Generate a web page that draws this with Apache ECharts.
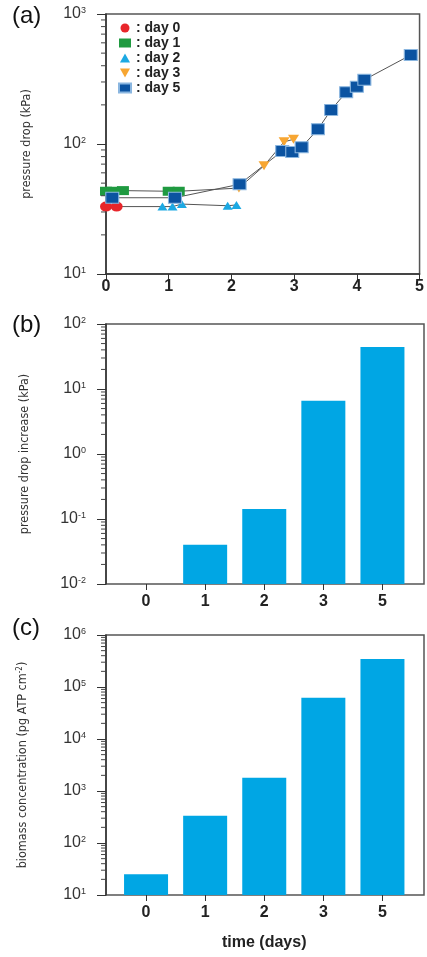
<!DOCTYPE html>
<html>
<head>
<meta charset="utf-8">
<script src="https://cdn.jsdelivr.net/npm/echarts@6/dist/echarts.min.js"></script>
<style>
  html, body { margin: 0; padding: 0; background: #fff; }
  #chart { width: 427px; height: 957px; }
</style>
</head>
<body>
<div id="chart"></div>
<script>
// (a) pressure drop over time, one point set per biofilm age
const day0X = [0, 0.17];
const day0Y = [33, 33];
const day1X = [0, 0.1, 0.27, 1.0, 1.16];
const day1Y = [43.3, 43.3, 43.8, 43.3, 43.3];
const day2X = [0.9, 1.06, 1.21, 1.94, 2.08];
const day2Y = [33, 33, 34.5, 33.5, 34];
const day3X = [2.12, 2.52, 2.84, 2.99];
const day3Y = [45.8, 68, 104, 108.6];
const day5X = [0.1, 1.1, 2.13, 2.81, 2.97, 3.12, 3.38, 3.59, 3.83, 4.0, 4.12, 4.86];
const day5Y = [38.6, 38.6, 49, 88.3, 86.7, 94.4, 130, 183, 250, 276, 312, 484];

// (b) and (c) bar panels
const dayLabels = ['0', '1', '2', '3', '5'];
const pressureIncrease = [null, 0.040, 0.143, 6.6, 44.3];
const biomass = [25, 335, 1800, 62400, 345000];

const legendNames = ['day 0', 'day 1', 'day 2', 'day 3', 'day 5'];

const FONT = "'Liberation Sans', Arial, sans-serif";
const NARROW = "'Liberation Sans Narrow', 'DejaVu Sans Condensed', 'Roboto', sans-serif";
const TRI_DOWN = 'path://M0,0 L10,0 L5,9 Z';
const TRI_UP = 'path://M5,0 L10,9 L0,9 Z';

const C_RED = '#e8262b';
const C_GREEN = '#1f9a40';
const C_CYAN = '#1ca9e3';
const C_ORANGE = '#f7a632';
const C_BLUE = '#0b53a1';
const C_BAR = '#00a6e4';

function pairs(xs, ys) { return xs.map((x, i) => [x, ys[i]]); }

function powLabel(v) {
  const e = Math.round(Math.log10(v));
  return '10{sup|' + e + '}';
}

// minor log ticks (2..9 within each decade)
function minorTicks(lo, hi) {
  const out = [];
  for (let e = lo; e < hi; e++) {
    for (let m = 2; m <= 9; m++) out.push(m * Math.pow(10, e));
  }
  return out;
}

function minorTickSeries(xi, yi, lo, hi) {
  return {
    type: 'custom',
    xAxisIndex: xi,
    yAxisIndex: yi,
    silent: true,
    clip: false,
    z: 5,
    data: minorTicks(lo, hi).map(v => [0, v]),
    renderItem: function (params, api) {
      const p = api.coord([0, api.value(1)]);
      const left = params.coordSys.x;
      return {
        type: 'line',
        shape: { x1: left - 5, y1: p[1], x2: left, y2: p[1] },
        style: { stroke: '#444', lineWidth: 1 }
      };
    }
  };
}

// bars that grow up from the bottom of a log axis
function logBarSeries(xi, yi, values) {
  return {
    type: 'custom',
    xAxisIndex: xi,
    yAxisIndex: yi,
    z: 3,
    data: values.map((v, i) => [i, v == null ? '-' : v]),
    renderItem: function (params, api) {
      const v = api.value(1);
      if (v == null || isNaN(v)) return null;
      const top = api.coord([api.value(0), v]);
      const cs = params.coordSys;
      const bottom = cs.y + cs.height;
      const w = 44;
      return {
        type: 'rect',
        shape: { x: top[0] - w / 2, y: top[1], width: w, height: bottom - top[1] },
        style: { fill: C_BAR }
      };
    }
  };
}

const yLabel = {
  formatter: powLabel,
  fontFamily: FONT,
  fontSize: 16,
  color: '#333',
  margin: 20,
  rich: {
    sup: { fontSize: 9, verticalAlign: 'top', lineHeight: 10, color: '#333', fontFamily: FONT }
  }
};

function logAxis(grid, lo, hi, name, nameGap) {
  return {
    type: 'log',
    logBase: 10,
    gridIndex: grid,
    min: Math.pow(10, lo),
    max: Math.pow(10, hi),
    splitNumber: hi - lo,
    name: name,
    nameLocation: 'middle',
    nameGap: nameGap,
    nameTextStyle: {
      fontFamily: NARROW, fontSize: 12.5, color: '#333',
      rich: { sup: { fontFamily: NARROW, fontSize: 8, verticalAlign: 'top', lineHeight: 9, color: '#333' } }
    },
    axisLine: { show: true, lineStyle: { color: '#333', width: 1.5 } },
    axisTick: { show: true, inside: false, length: 9, lineStyle: { color: '#333', width: 1 } },
    axisLabel: yLabel,
    splitLine: { show: false },
    minorTick: { show: false }
  };
}

function hiddenLog(grid, lo, hi) {
  return {
    type: 'log', logBase: 10, gridIndex: grid,
    min: Math.pow(10, lo), max: Math.pow(10, hi), show: false
  };
}

function catAxis(grid, extra) {
  return Object.assign({
    type: 'category',
    gridIndex: grid,
    data: dayLabels,
    axisLine: { show: false },
    axisTick: { show: true, alignWithLabel: true, length: 6, lineStyle: { color: '#333', width: 1 } },
    axisLabel: { fontFamily: FONT, fontSize: 16, fontWeight: 'bold', color: '#222', margin: 10 },
    splitLine: { show: false }
  }, extra || {});
}

const frame = { show: true, borderColor: '#555', borderWidth: 1.5, backgroundColor: 'transparent' };
const panelTitle = { fontFamily: FONT, fontSize: 24, fontWeight: 'normal', color: '#111' };

const option = {
  animation: false,
  backgroundColor: '#fff',
  title: [
    { text: '(a)', left: 12, top: 4, padding: 0, textStyle: panelTitle },
    { text: '(b)', left: 12, top: 313, padding: 0, textStyle: panelTitle },
    { text: '(c)', left: 12, top: 616, padding: 0, textStyle: panelTitle }
  ],
  legend: {
    left: 118,
    top: 21,
    orient: 'vertical',
    itemWidth: 12,
    itemHeight: 9,
    itemGap: 1,
    padding: 0,
    selectedMode: false,
    formatter: n => ': ' + n,
    textStyle: { fontFamily: FONT, fontSize: 14, fontWeight: 'bold', color: '#222', lineHeight: 14 },
    data: [
      { name: legendNames[0], icon: 'circle' },
      { name: legendNames[1], icon: 'rect' },
      { name: legendNames[2], icon: TRI_UP },
      { name: legendNames[3], icon: TRI_DOWN },
      { name: legendNames[4], icon: 'rect' }
    ]
  },
  grid: [
    Object.assign({ left: 106, top: 14, width: 317, height: 260 }, frame),
    Object.assign({ left: 106, top: 324, width: 318, height: 260 }, frame),
    { left: 116.5, top: 324, width: 295.5, height: 260 },
    Object.assign({ left: 106, top: 635, width: 318, height: 260 }, frame),
    { left: 116.5, top: 635, width: 295.5, height: 260 }
  ],
  xAxis: [
    {
      type: 'value', gridIndex: 0, min: 0, max: 5, interval: 1,
      axisLine: { show: true, onZero: false, lineStyle: { color: '#333', width: 1.5 } },
      axisTick: { show: true, inside: false, length: 6, lineStyle: { color: '#333' } },
      axisLabel: { fontFamily: FONT, fontSize: 16, fontWeight: 'bold', color: '#222', margin: 5 },
      splitLine: { show: false }
    },
    { type: 'value', gridIndex: 1, min: 0, max: 1, show: false },
    catAxis(2),
    { type: 'value', gridIndex: 3, min: 0, max: 1, show: false },
    catAxis(4, {
      name: 'time (days)',
      nameLocation: 'middle',
      nameGap: 40,
      nameTextStyle: { fontFamily: FONT, fontSize: 16, fontWeight: 'bold', color: '#222' }
    })
  ],
  yAxis: [
    logAxis(0, 1, 3, 'pressure drop (kPa)', 73),
    logAxis(1, -2, 2, 'pressure drop increase (kPa)', 75),
    hiddenLog(2, -2, 2),
    logAxis(3, 1, 6, 'biomass concentration (pg ATP cm{sup|-2})', 77),
    hiddenLog(4, 1, 6)
  ],
  series: [
    minorTickSeries(0, 0, 1, 3),
    minorTickSeries(1, 1, -2, 2),
    minorTickSeries(3, 3, 1, 6),
    // connecting traces
    {
      type: 'line', xAxisIndex: 0, yAxisIndex: 0, symbol: 'none', silent: true, z: 2,
      lineStyle: { color: '#555', width: 1 },
      data: pairs(day0X.concat(day2X), day0Y.concat(day2Y))
    },
    {
      type: 'line', xAxisIndex: 0, yAxisIndex: 0, symbol: 'none', silent: true, z: 2,
      lineStyle: { color: '#555', width: 1 },
      data: pairs(day1X.concat(day3X), day1Y.concat(day3Y))
    },
    {
      type: 'line', xAxisIndex: 0, yAxisIndex: 0, symbol: 'none', silent: true, z: 2,
      lineStyle: { color: '#555', width: 1 },
      data: pairs(day5X, day5Y)
    },
    // markers
    {
      name: legendNames[2], type: 'scatter', xAxisIndex: 0, yAxisIndex: 0, z: 3,
      symbol: TRI_UP, symbolSize: [10, 8],
      itemStyle: { color: C_CYAN, opacity: 1 },
      data: pairs(day2X, day2Y)
    },
    {
      name: legendNames[0], type: 'scatter', xAxisIndex: 0, yAxisIndex: 0, z: 4,
      symbol: 'circle', symbolSize: [12, 10],
      itemStyle: { color: C_RED, opacity: 1 },
      data: pairs(day0X, day0Y)
    },
    {
      name: legendNames[1], type: 'scatter', xAxisIndex: 0, yAxisIndex: 0, z: 4,
      symbol: 'rect', symbolSize: [12, 9],
      itemStyle: { color: C_GREEN, opacity: 1 },
      data: pairs(day1X, day1Y)
    },
    {
      name: legendNames[3], type: 'scatter', xAxisIndex: 0, yAxisIndex: 0, z: 4,
      symbol: TRI_DOWN, symbolSize: [11, 9],
      itemStyle: { color: C_ORANGE, opacity: 1 },
      data: pairs(day3X, day3Y)
    },
    {
      name: legendNames[4], type: 'scatter', xAxisIndex: 0, yAxisIndex: 0, z: 6,
      symbol: 'rect', symbolSize: [13, 11],
      itemStyle: { color: C_BLUE, borderColor: '#8ab6e0', borderWidth: 1, opacity: 1 },
      data: pairs(day5X, day5Y)
    },
    // bars
    logBarSeries(2, 2, pressureIncrease),
    logBarSeries(4, 4, biomass)
  ]
};

const chart = echarts.init(document.getElementById('chart'), null, { renderer: 'canvas' });
chart.setOption(option);
</script>
</body>
</html>
